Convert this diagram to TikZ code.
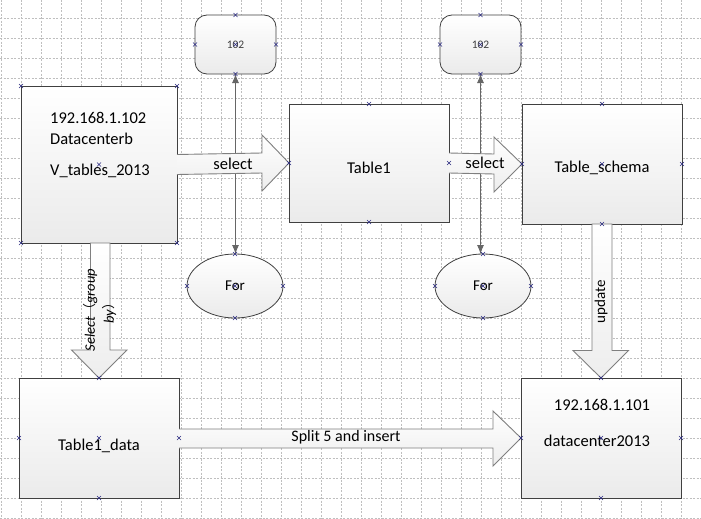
\documentclass[tikz,border=0pt]{standalone}
\usepackage{fontspec}
\setmainfont{Carlito}
\newfontfamily\cjk{Noto Sans CJK SC}
\usetikzlibrary{shapes.geometric,calc,arrows.meta}
\definecolor{bordc}{HTML}{404040}
\definecolor{arrc}{HTML}{7F7F7F}
\definecolor{mkc}{HTML}{2A2A80}
\tikzset{
  box/.style={draw=bordc,line width=0.9pt,top color=white,bottom color=black!8,minimum width=#1,minimum height=120,inner sep=0,outer sep=0},
  rbox/.style={draw=bordc,line width=0.8pt,rounded corners=12,top color=white,bottom color=black!8,minimum width=81,minimum height=59,inner sep=0,outer sep=0,font=\fontsize{11.5}{12}\selectfont\color{black!75}},
  ell/.style={ellipse,draw=bordc,line width=0.8pt,top color=white,bottom color=black!8,minimum width=96,minimum height=64,inner sep=0,outer sep=0,font=\fontsize{15}{17}\selectfont},
  blk/.style={draw=arrc,line width=0.9pt,top color=white,bottom color=black!7,line join=miter},
  conn/.style={draw=black!60,line width=0.9pt,{Latex[length=9pt,width=7pt]}-{Latex[length=9pt,width=7pt]}},
  txt/.style={inner sep=0,font=\fontsize{16.5}{18}\selectfont},
  gridl/.style={black!25,dashed,dash pattern=on 2pt off 1.5pt,line width=0.4pt},
  mk/.pic={\draw[mkc,line width=0.5pt] (-2,-2)--(2,2) (-2,2)--(2,-2);}
}
\begin{document}
\begin{tikzpicture}[x=1pt,y=-1pt]
\useasboundingbox (0,0) rectangle (701,519);
\fill[white] (0,0) rectangle (701,519);
% grid
\foreach \gx in {0,...,35}{\draw[gridl] (0.7+20*\gx,0) -- (0.7+20*\gx,519);}
\foreach \gy in {-1,...,25}{\draw[gridl] (0,18.3+20*\gy) -- (701,18.3+20*\gy);}
% boxes
\node[box=156,minimum height=157] (A) at (99,164.5) {};
\node[box=160,minimum height=118] (T1) at (369,163) {};
\node[box=160] (TS) at (602,164) {};
\node[box=160] (DC) at (601,438) {};
\node[box=160] (TD) at (99,438) {};
\node[rbox] (R1) at (235.5,44.5) {102};
\node[rbox] (R2) at (480.5,44.5) {102};
\node[ell] (F1) at (235,286) {For};
\node[ell] (F2) at (483,286) {For};
% texts
\node[txt,anchor=west] (a1) at (50,118) {192.168.1.102};
\node[txt,anchor=west] (a2) at (50,139) {Datacenterb};
\node[txt,anchor=west] (a3) at (50,171) {V\_tables\_2013};
\node[txt] (t1) at (369,168) {Table1};
\node[txt] (ts) at (602,168) {Table\_schema};
\node[txt] (d1) at (602,405) {192.168.1.101};
\node[txt] (d2) at (597,441) {datacenter2013};
\node[txt] (td) at (99,446) {Table1\_data};
% connectors
\draw[conn] (R1.south) -- (R1.south |- F1.north);
\draw[conn] (R2.south) -- (R2.south |- F2.north);
% block arrow select 1
\path[blk] ($(A.east)+(0,-10)$) -- ($(T1.west)+(-27,-10)$) -- ($(T1.west)+(-27,-28)$) -- (T1.west) -- ($(T1.west)+(-27,28)$) -- ($(T1.west)+(-27,10)$) -- ($(A.east)+(0,10)$);
\node[txt] (s1) at (233,164) {select};
% block arrow select 2
\path[blk] ($(T1.east)+(0,-10)$) -- ($(TS.west)+(-28,-10)$) -- ($(TS.west)+(-28,-27)$) -- (TS.west) -- ($(TS.west)+(-28,28)$) -- ($(TS.west)+(-28,10)$) -- ($(T1.east)+(0,10)$);
\node[txt] (s2) at (485,163) {select};
% down arrow group by
\path[blk] ($(A.south)+(-8.5,0)$) -- ($(TD.north)+(-8.5,-28)$) -- ($(TD.north)+(-27.5,-28)$) -- (TD.north) -- ($(TD.north)+(28,-28)$) -- ($(TD.north)+(11,-28)$) -- ($(A.south)+(11,0)$) -- cycle;
\node[txt,rotate=90,align=center,font=\fontsize{14.5}{19}\selectfont\itshape] (g1) at (100,310) {Select{\cjk\fontsize{13}{19}\selectfont （}group\\by{\cjk\fontsize{13}{19}\selectfont ）}};
% update arrow
\path[blk] ($(TS.south)+(-10,0)$) -- ($(DC.north)+(-9,-27.5)$) -- ($(DC.north)+(-28,-27.5)$) -- (DC.north) -- ($(DC.north)+(27.5,-27.5)$) -- ($(DC.north)+(11,-27.5)$) -- ($(TS.south)+(10,0)$) -- cycle;
\node[txt,rotate=90,font=\fontsize{15}{17}\selectfont] (u1) at (601,302) {update};
% split arrow
\path[blk] ($(TD.east)+(0,-9)$) -- ($(DC.west)+(-28,-9)$) -- ($(DC.west)+(-28,-27)$) -- (DC.west) -- ($(DC.west)+(-28,28)$) -- ($(DC.west)+(-28,10)$) -- ($(TD.east)+(0,10)$);
\node[txt,font=\fontsize{16}{18}\selectfont] (sp) at (346,437) {Split 5 and insert};
% connection markers
\foreach \p in {A.north west,A.north east,A.south west,A.south east,A.center,
  T1.north,T1.south,T1.west,T1.east,
  TS.north,TS.south,TS.west,TS.east,TS.center,
  DC.north,DC.south,DC.west,DC.east,DC.center,
  TD.north,TD.south,TD.west,TD.east,TD.center,
  R1.north,R1.south,R1.west,R1.east,R1.center,
  R2.north,R2.south,R2.west,R2.east,R2.center,
  F1.north,F1.south,F1.west,F1.east,F1.center,
  F2.north,F2.south,F2.west,F2.east,F2.center}{\pic at (\p) {mk};}
\end{tikzpicture}
\end{document}
